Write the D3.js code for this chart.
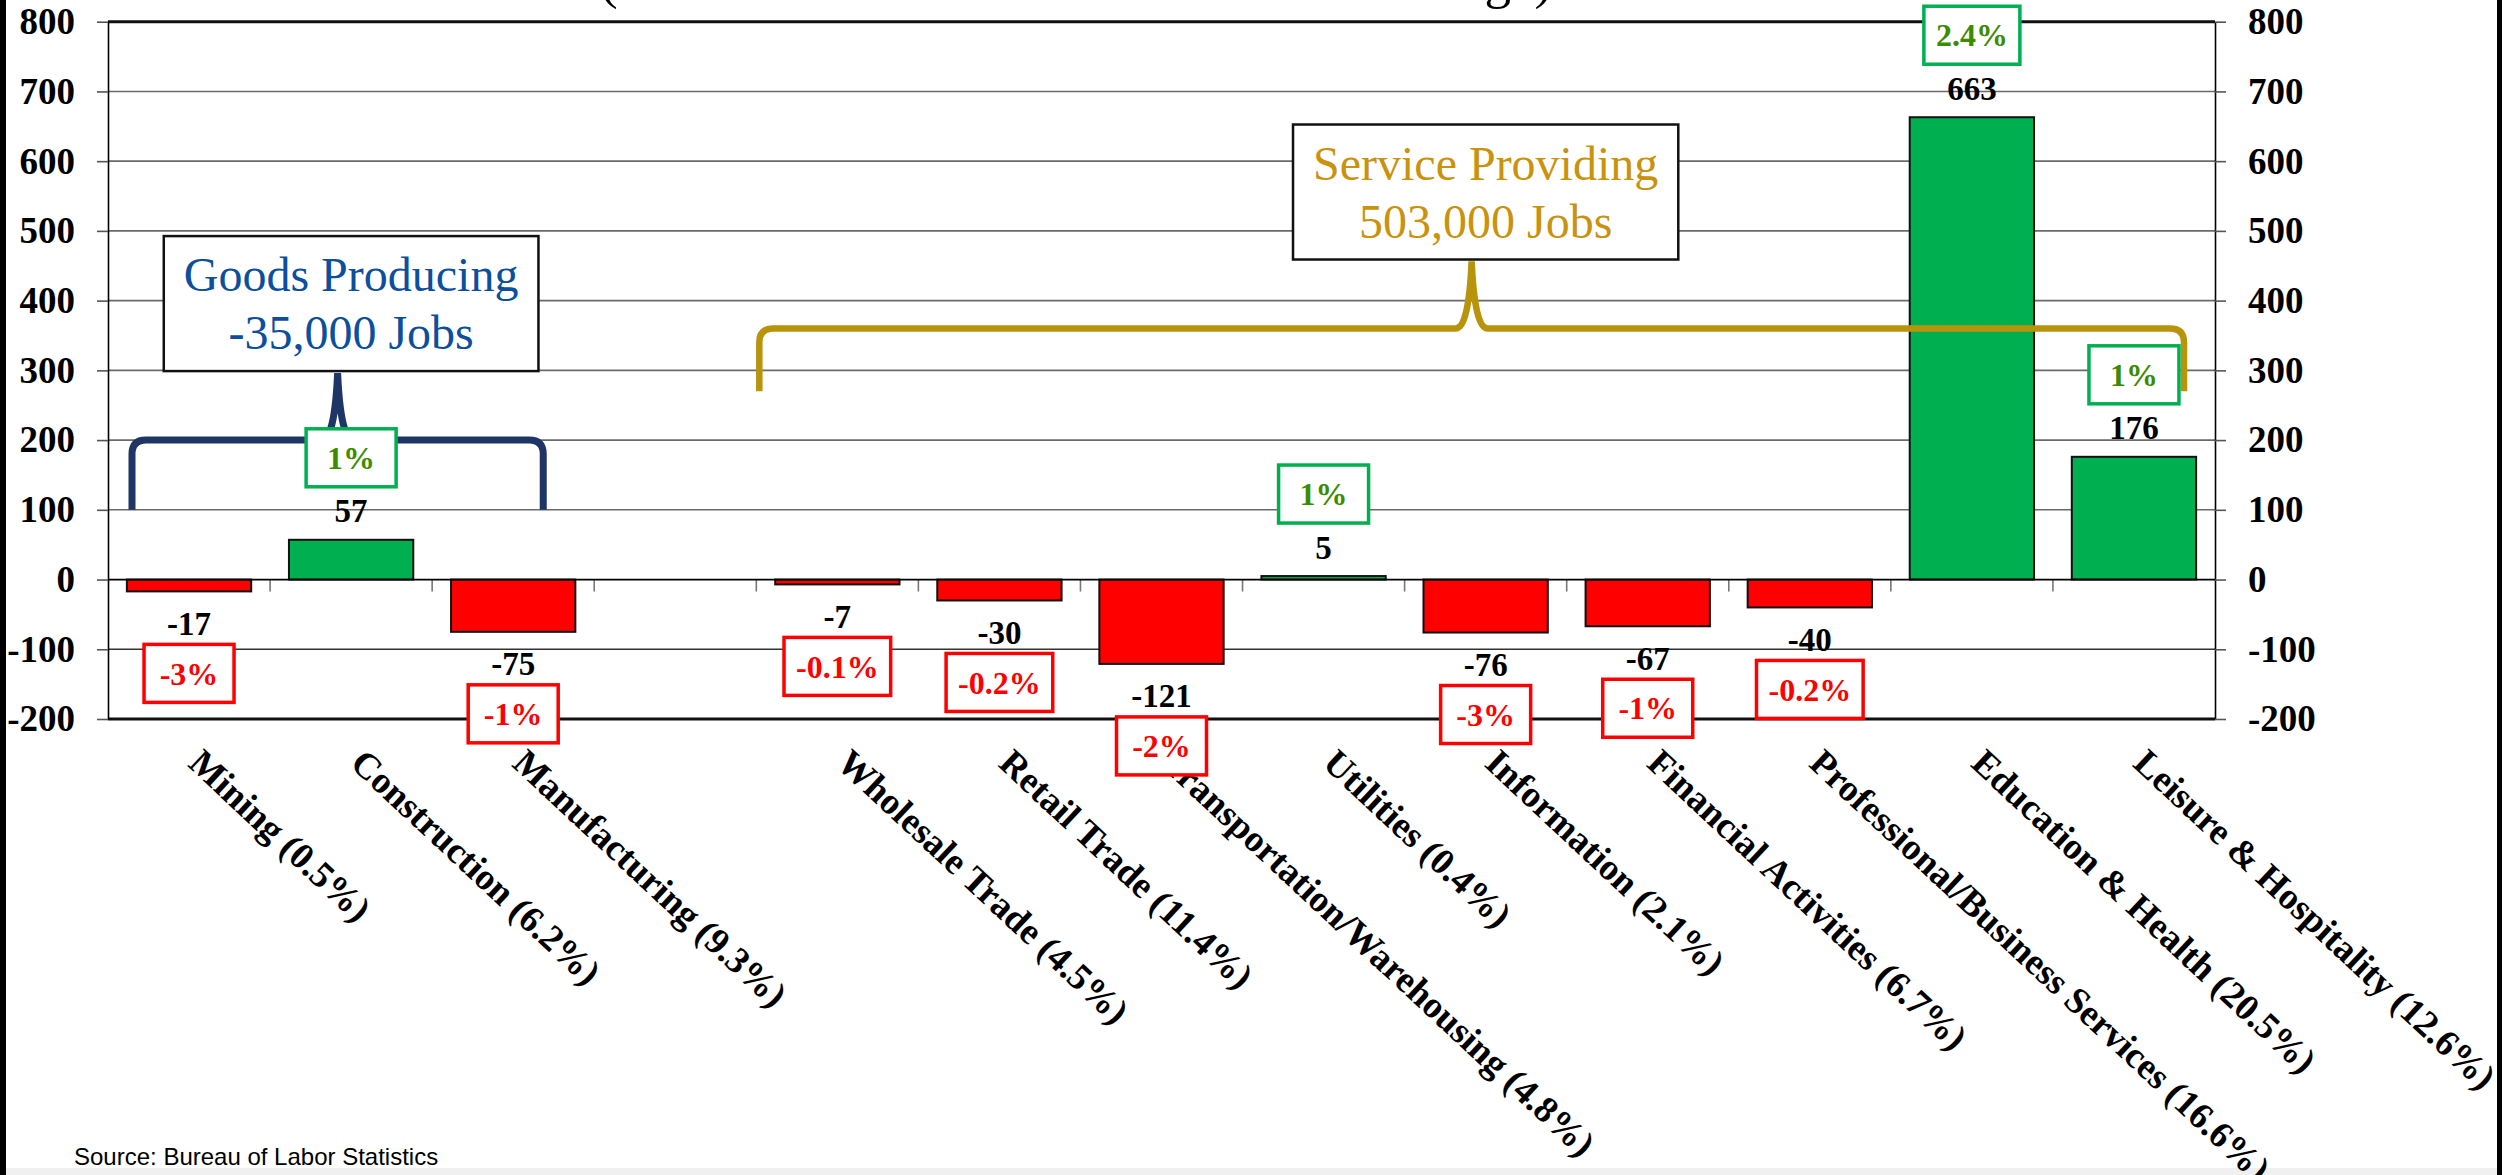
<!DOCTYPE html>
<html><head><meta charset="utf-8">
<script src="https://cdn.jsdelivr.net/npm/d3@7"></script>
<style>html,body{margin:0;padding:0;background:#fff;}svg{display:block;}</style>
</head><body>
<svg id="chart" width="2509" height="1175"></svg>
<script>
// ---------- data ----------
const categories = ["Mining (0.5%)","Construction (6.2%)","Manufacturing (9.3%)","",
  "Wholesale Trade (4.5%)","Retail Trade (11.4%)","Transportation/Warehousing (4.8%)",
  "Utilities (0.4%)","Information (2.1%)","Financial Activities (6.7%)",
  "Professional/Business Services (16.6%)","Education & Health (20.5%)","Leisure & Hospitality (12.6%)"];
const jobChange = [-17, 57, -75, null, -7, -30, -121, 5, -76, -67, -40, 663, 176];
const pctChange = ["-3%","1%","-1%",null,"-0.1%","-0.2%","-2%","1%","-3%","-1%","-0.2%","2.4%","1%"];
const yTicks = [-200,-100,0,100,200,300,400,500,600,700,800];
const groupNames = ["Goods Producing","Service Providing"];
const groupTotals = ["-35,000 Jobs","503,000 Jobs"];
const groupFirst = ["Mining (0.5%)","Wholesale Trade (4.5%)"];
const groupLast = ["Manufacturing (9.3%)","Leisure & Hospitality (12.6%)"];
const groupMiddle = ["Construction (6.2%)","Information (2.1%)"];
const titleText = "(December 2023 to December 2024 Change)";
const sourceText = "Source: Bureau of Labor Statistics";

// ---------- layout ----------
const W = 2509, H = 1175;
const L = 108, R = 2215, T = 21.7, B = 719;
const serif = "'Liberation Serif','Times New Roman',serif";
const fmt = d => String(d);   // plain hyphen-minus as in the reference
const svg = d3.select("#chart");

const x = d3.scaleBand().domain(categories).range([L, R]).paddingInner(0.233).paddingOuter(0.1165);
const y = d3.scaleLinear().domain([-200, 800]).range([B, T]);

// frame
svg.append("rect").attr("x",0).attr("y",0).attr("width",W).attr("height",H).attr("fill","#fff");
svg.append("rect").attr("x",6).attr("y",1168).attr("width",2491).attr("height",7).attr("fill","#f0f0f0");
svg.append("rect").attr("x",0).attr("y",0).attr("width",6).attr("height",H).attr("fill","#000");
svg.append("rect").attr("x",2497).attr("y",0).attr("width",5).attr("height",H).attr("fill","#000");

// title (cut off at top)
svg.append("text").attr("x",600).attr("y",-2).attr("font-family",serif).attr("font-size",53)
  .attr("fill","#000").text(titleText);

// gridlines
svg.append("g").selectAll("line").data(yTicks.filter(v => v !== 0 && v !== 800 && v !== -200)).join("line")
  .attr("x1",L).attr("x2",R).attr("y1",d=>y(d)).attr("y2",d=>y(d))
  .attr("stroke", d => d < 0 ? "#333" : "#6a6a6a").attr("stroke-width",1.6);
[800,-200].forEach(v => svg.append("line").attr("x1",L).attr("x2",R).attr("y1",y(v)).attr("y2",y(v))
  .attr("stroke","#111").attr("stroke-width",3));

// axes
function styleAxis(g){
  g.select(".domain").attr("stroke","#000").attr("stroke-width",1.6);
  g.selectAll(".tick line").attr("stroke","#555").attr("stroke-width",1.6);
  g.selectAll(".tick text").attr("font-family",serif).attr("font-weight","bold")
    .attr("font-size",37).attr("fill","#000");
}
svg.append("g").attr("transform",`translate(${L},0)`)
  .call(d3.axisLeft(y).tickValues(yTicks).tickFormat(fmt).tickSize(11).tickSizeOuter(0).tickPadding(22))
  .call(styleAxis);
svg.append("g").attr("transform",`translate(${R},0)`)
  .call(d3.axisRight(y).tickValues(yTicks).tickFormat(fmt).tickSize(11).tickSizeOuter(0).tickPadding(22))
  .call(styleAxis);

// bars
const rows = categories.map((c,i) => ({c, v: jobChange[i], p: pctChange[i]})).filter(d => d.v !== null);
svg.append("g").selectAll("rect").data(rows).join("rect")
  .attr("x", d => x(d.c)).attr("width", x.bandwidth())
  .attr("y", d => Math.min(y(0), y(d.v))).attr("height", d => Math.abs(y(d.v) - y(0)))
  .attr("fill", d => d.v >= 0 ? "#00b050" : "#ff0000")
  .attr("stroke","#111").attr("stroke-width",2);

// category ticks on zero line
const step = x.step();
svg.append("g").selectAll("line").data(d3.range(1, categories.length)).join("line")
  .attr("x1", k => L + k*step).attr("x2", k => L + k*step)
  .attr("y1", y(0)).attr("y2", y(0) + 12).attr("stroke","#777").attr("stroke-width",1.6);
svg.append("line").attr("x1",L).attr("x2",R).attr("y1",y(0)).attr("y2",y(0)).attr("stroke","#000").attr("stroke-width",1.8);

// category labels (drawn before the percent boxes, which sit on top of them)
svg.append("g").selectAll("text").data(categories.filter(c => c !== "")).join("text")
  .attr("transform", c => `translate(${x(c) + x.bandwidth()/2 + 14},748) rotate(43)`)
  .attr("y", 24)
  .attr("font-family",serif).attr("font-weight","bold").attr("font-size",37).attr("fill","#000")
  .text(c => c);

// braces
const braceColor = ["#1f3566","#b8930c"];
const braceWidth = [7, 6.5];
const textColor = ["#0c4f9c","#c9920f"];
const braceInset = [[24, 51],[3, 31]];
const braceLineVal = [200, 360];
const braceLegVal = [100, 270];
function bracePath(x0, x1, yl, yg, yt){
  const cx = (x0 + x1)/2, r = 14, w = 16;
  return `M${x0},${yg} L${x0},${yl + r} Q${x0},${yl} ${x0 + r},${yl} L${cx - w},${yl} Q${cx - 3},${yl} ${cx},${yt} `+
         `Q${cx + 3},${yl} ${cx + w},${yl} L${x1 - r},${yl} Q${x1},${yl} ${x1},${yl + r} L${x1},${yg}`;
}
groupNames.forEach((name, gi) => {
  const x0 = x(groupFirst[gi]) - x.step()*x.paddingInner()/2 + braceInset[gi][0];
  const x1 = x(groupLast[gi]) + x.bandwidth() + x.step()*x.paddingInner()/2 - braceInset[gi][1];
  const yl = y(braceLineVal[gi]), yg = y(braceLegVal[gi]);
  const boxBottom = yl - 69, boxTop = boxBottom - 135;
  svg.append("path").attr("d", bracePath(x0, x1, yl, yg, boxBottom + 2))
    .attr("fill","none").attr("stroke",braceColor[gi]).attr("stroke-width",braceWidth[gi]).attr("stroke-linecap","butt");
  const cx = x(groupMiddle[gi]) + x.bandwidth()/2;
  const g = svg.append("g");
  const box = g.append("rect").attr("fill","#fff").attr("stroke","#111").attr("stroke-width",2.5);
  const t1 = g.append("text").attr("x",cx).attr("y",boxTop + 55).attr("text-anchor","middle")
    .attr("font-family",serif).attr("font-size",48).attr("fill",textColor[gi]).text(name);
  const t2 = g.append("text").attr("x",cx).attr("y",boxTop + 113).attr("text-anchor","middle")
    .attr("font-family",serif).attr("font-size",48).attr("fill",textColor[gi]).text(groupTotals[gi]);
  const bw = Math.max(t1.node().getComputedTextLength(), t2.node().getComputedTextLength()) + 40;
  box.attr("x", cx - bw/2).attr("y", boxTop).attr("width", bw).attr("height", 135);
});

// value labels
svg.append("g").selectAll("text").data(rows).join("text")
  .attr("x", d => x(d.c) + x.bandwidth()/2)
  .attr("y", d => d.v >= 0 ? y(d.v) - 29 : y(d.v) + 32)
  .attr("dy","0.35em").attr("text-anchor","middle")
  .attr("font-family",serif).attr("font-weight","bold").attr("font-size",33).attr("fill","#000")
  .text(d => fmt(d.v));

// percent boxes
const pg = svg.append("g").selectAll("g").data(rows).join("g")
  .attr("transform", d => `translate(${x(d.c) + x.bandwidth()/2},${d.v >= 0 ? y(d.v) - 82 : y(d.v) + 82})`);
pg.append("rect");
pg.append("text").attr("text-anchor","middle").attr("dy","0.35em")
  .attr("font-family",serif).attr("font-weight","bold").attr("font-size",32)
  .attr("fill", d => d.v >= 0 ? "#3d8b00" : "#ff0000").text(d => d.p);
pg.each(function(d){
  const g = d3.select(this);
  const tw = g.select("text").node().getComputedTextLength();
  const bw = Math.max(90, tw + 24), bh = 58;
  g.select("rect").attr("x",-bw/2).attr("y",-bh/2).attr("width",bw).attr("height",bh)
    .attr("fill","#fff").attr("stroke", d.v >= 0 ? "#00b050" : "#ff0000").attr("stroke-width",3.5);
});

// source
svg.append("text").attr("x",74).attr("y",1165).attr("font-family","'Liberation Sans',Arial,sans-serif")
  .attr("font-size",24).attr("fill","#000").text(sourceText);
</script>
</body></html>
